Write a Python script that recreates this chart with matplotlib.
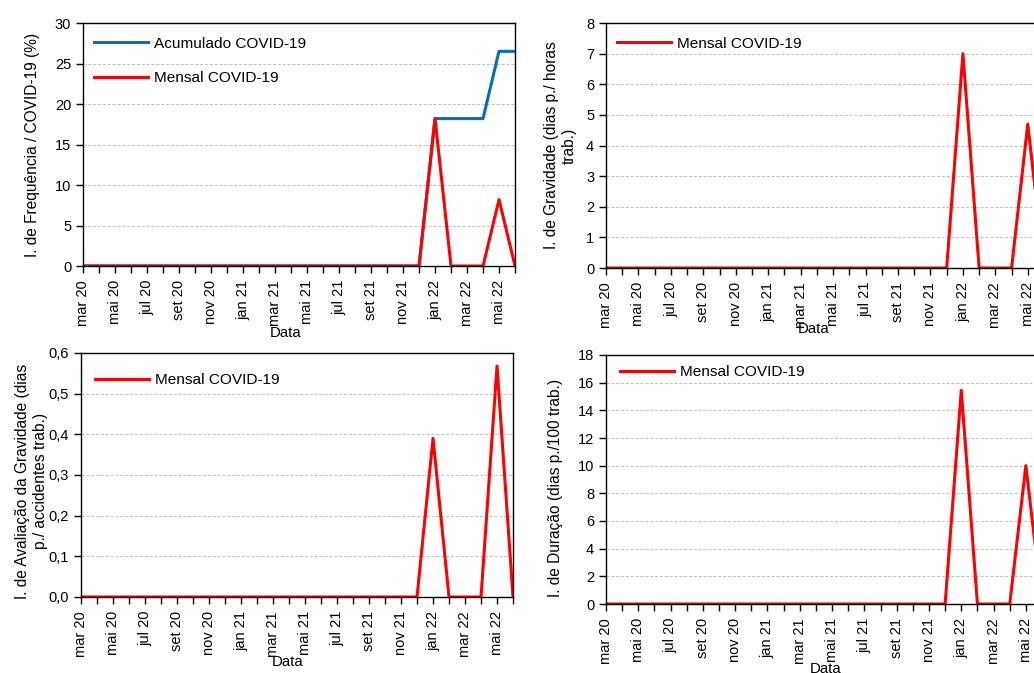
import numpy as np
import matplotlib
matplotlib.use('Agg')
import matplotlib.pyplot as plt
from matplotlib.ticker import FuncFormatter

plt.rcParams['font.family'] = ['Liberation Sans', 'DejaVu Sans']
plt.rcParams['font.size'] = 10.5

# months mar 20 .. jun 22
meses = ['mar 20', 'abr 20', 'mai 20', 'jun 20', 'jul 20', 'ago 20', 'set 20', 'out 20',
         'nov 20', 'dez 20', 'jan 21', 'fev 21', 'mar 21', 'abr 21', 'mai 21', 'jun 21',
         'jul 21', 'ago 21', 'set 21', 'out 21', 'nov 21', 'dez 21', 'jan 22', 'fev 22',
         'mar 22', 'abr 22', 'mai 22', 'jun 22']

z = [0] * 22
freq_mensal = z + [18.2, 0, 0, 0, 8.2, 0]
freq_acum = z + [18.2, 18.2, 18.2, 18.2, 26.5, 26.5]
grav_mensal = z + [7.0, 0, 0, 0, 4.7, 0]
aval_mensal = z + [0.39, 0, 0, 0, 0.568, 0]
dur_mensal = z + [15.45, 0, 0, 0, 10.0, 0]

W, H = 1034, 673
fig = plt.figure(figsize=(W / 100, H / 100), dpi=100)


def make_ax(left, right, top, bottom):
    return fig.add_axes([left / W, (H - bottom) / H, (right - left) / W, (bottom - top) / H])


def style(ax, ymax, ystep, ylabel, ylab_xy, xlab_xy, leg_xy, fmt=None):
    x = np.arange(len(meses))
    ax.set_xlim(0, len(meses) - 1)
    ax.set_ylim(0, ymax)
    ax.set_xticks(x)
    ax.set_xticklabels([m if i % 2 == 0 else '' for i, m in enumerate(meses)], rotation=90)
    ax.set_yticks(np.arange(0, ymax + ystep / 2, ystep))
    if fmt:
        ax.yaxis.set_major_formatter(FuncFormatter(fmt))
    ax.tick_params(direction='out', length=5, width=1, labelsize=10.5)
    ax.tick_params(axis='x', pad=5)
    ax.tick_params(axis='y', pad=3.5)
    for s in ax.spines.values():
        s.set_linewidth(1)
    ax.yaxis.grid(True, color='#c0c0c0', linestyle=(0, (3, 2)), linewidth=0.7)
    ax.set_axisbelow(True)
    ax.set_ylabel(ylabel, fontsize=11.2, linespacing=1.25)
    ax.yaxis.set_label_coords(*ylab_xy)
    ax.set_xlabel('Data', fontsize=10.8)
    ax.xaxis.set_label_coords(*xlab_xy)
    ax.legend(loc='upper left', bbox_to_anchor=leg_xy, frameon=False, borderpad=0,
              borderaxespad=0, handlelength=3.5, handletextpad=0.4, labelspacing=1.35,
              fontsize=11.1)


x = np.arange(len(meses))
comma = lambda v, p: ('%.1f' % v).replace('.', ',')

# top left
ax1 = make_ax(83, 515, 23, 266)
ax1.plot(x, freq_acum, color='#0070C0', lw=2.2, label='Acumulado COVID-19')
ax1.plot(x, freq_mensal, color='#FF0000', lw=2.2, label='Mensal COVID-19')
style(ax1, 30, 5, 'I. de Frequência / COVID-19 (%)', (-0.1, 0.5), (0.468, -0.245),
      (0.026, 0.944))

# top right
ax2 = make_ax(606, 1044, 23, 268)
ax2.plot(x, grav_mensal, color='#FF0000', lw=2.2, label='Mensal COVID-19')
style(ax2, 8, 1, 'I. de Gravidade (dias p./ horas\ntrab.)', (-0.066, 0.5), (0.473, -0.222),
      (0.025, 0.944))

# bottom left
ax3 = make_ax(81, 513, 353, 597)
ax3.plot(x, aval_mensal, color='#FF0000', lw=2.2, label='Mensal COVID-19')
style(ax3, 0.6, 0.1, 'I. de Avaliação da Gravidade (dias\np./ accidentes trab.)',
      (-0.077, 0.475), (0.477, -0.236), (0.032, 0.918), fmt=comma)

# bottom right
ax4 = make_ax(606, 1042, 355, 604)
ax4.plot(x, dur_mensal, color='#FF0000', lw=2.2, label='Mensal COVID-19')
style(ax4, 18, 2, 'I. de Duração (dias p./100 trab.)', (-0.098, 0.466), (0.503, -0.232),
      (0.032, 0.96))

fig.savefig('out.png', dpi=100)
